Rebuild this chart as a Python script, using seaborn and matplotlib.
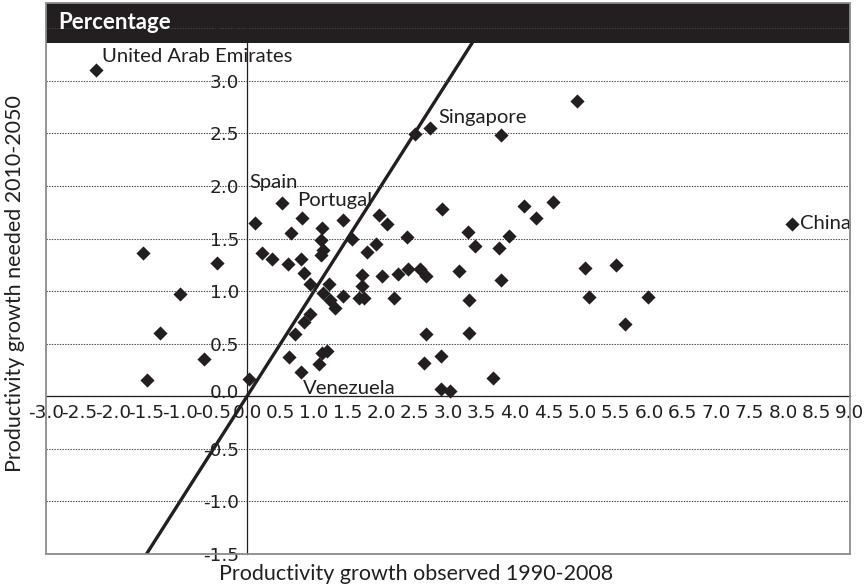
import matplotlib
matplotlib.use("Agg")
import numpy as np
import pandas as pd
import seaborn as sns
import matplotlib.pyplot as plt
from matplotlib.patches import Rectangle
from matplotlib.ticker import MultipleLocator, FormatStrFormatter
from matplotlib.transforms import ScaledTranslation

# Productivity growth per country (% per year)
observed = [
    -2.25, -1.55, -1.49, -1.30, -1.00, -0.64, -0.45,
    0.03, 0.12, 0.52, 0.82, 0.65, 0.23, 0.38, 0.61, 0.80, 0.85, 0.94,
    1.12, 1.11, 1.14, 1.10, 1.22, 1.14, 1.24, 0.94, 0.85, 0.71, 0.62,
    0.80, 1.07, 1.12, 1.19, 1.32, 1.44, 1.67, 1.74, 2.19, 1.43, 1.97,
    2.09, 1.56, 1.92, 1.79, 2.39, 1.72, 1.72, 2.01, 2.25, 2.41, 2.58,
    2.67, 3.16, 3.79, 2.91, 4.13, 4.57, 4.32, 8.13, 3.30, 3.41, 3.76,
    3.91, 5.05, 5.50, 5.11, 5.98, 3.31, 5.64, 2.67, 3.31, 2.64, 2.89,
    3.67, 2.89, 3.03, 2.51, 2.73, 4.93, 3.79,
]
needed = [
    3.10, 1.36, 0.15, 0.60, 0.97, 0.35, 1.27,
    0.16, 1.65, 1.84, 1.70, 1.55, 1.36, 1.31, 1.26, 1.31, 1.17, 1.07,
    1.60, 1.49, 1.39, 1.34, 1.07, 0.98, 0.92, 0.78, 0.71, 0.59, 0.37,
    0.23, 0.31, 0.41, 0.43, 0.84, 0.95, 0.93, 0.93, 0.93, 1.68, 1.72,
    1.64, 1.50, 1.45, 1.37, 1.51, 1.15, 1.05, 1.14, 1.16, 1.21, 1.21,
    1.14, 1.19, 1.11, 1.78, 1.81, 1.85, 1.70, 1.64, 1.56, 1.43, 1.41,
    1.52, 1.22, 1.25, 0.94, 0.94, 0.92, 0.69, 0.59, 0.60, 0.32, 0.38,
    0.17, 0.07, 0.05, 2.49, 2.55, 2.81, 2.48,
]

# Named countries and the index of their point
country_names = ["United Arab Emirates", "Singapore", "China", "Spain", "Portugal", "Venezuela"]
country_index = [0, 77, 58, 9, 10, 29]

# Reference line: needed growth equal to observed growth
reference = [-1.5, 3.5]

x_title = "Productivity growth observed 1990-2008"
y_title = "Productivity growth needed 2010-2050"
header = "Percentage"

INK = "#231f20"
FRAME = "#8a8a8a"

sns.set_theme(style="white")
plt.rcParams["font.family"] = ["Lato", "DejaVu Sans"]
plt.rcParams["axes.unicode_minus"] = False

W, H = 865, 588
fig = plt.figure(figsize=(W / 100, H / 100), dpi=100)
ax = fig.add_axes([46 / W, (H - 554) / H, 804 / W, 551 / H])
ax.set_axisbelow("line")

df = pd.DataFrame({"observed": observed, "needed": needed})
ref = pd.DataFrame({"x": reference, "y": reference})

sns.lineplot(data=ref, x="x", y="y", color=INK, linewidth=2.4, zorder=1.1, ax=ax)
sns.scatterplot(data=df, x="observed", y="needed", marker="D", s=52,
                color=INK, linewidth=0, zorder=3, ax=ax)

ax.set_xlim(-3, 9)
ax.set_ylim(-1.5, 3.74)
ax.set_xlabel("")
ax.set_ylabel("")

# axes through the origin
for side in ["top", "right"]:
    ax.spines[side].set_visible(False)
ax.spines["left"].set_position(("data", 0))
ax.spines["left"].set_bounds(-1.5, 3.5)
ax.spines["bottom"].set_position(("data", 0))
for side in ["left", "bottom"]:
    ax.spines[side].set_color(INK)
    ax.spines[side].set_linewidth(0.9)
    ax.spines[side].set_zorder(2.5)

ax.add_patch(Rectangle((0, 0), 1, 1, transform=ax.transAxes, fill=False,
                       edgecolor=FRAME, linewidth=1.3, clip_on=False, zorder=5))

ax.xaxis.set_major_locator(MultipleLocator(0.5))
ytick_values = np.arange(-1.5, 3.51, 0.5)
ax.set_yticks(ytick_values)
ax.xaxis.set_major_formatter(FormatStrFormatter("%.1f"))
ax.yaxis.set_major_formatter(FormatStrFormatter("%.1f"))
ax.tick_params(axis="both", direction="out", length=4, width=0.8, color=INK,
               labelcolor=INK, labelsize=13.3, pad=1.5,
               labelfontfamily="Liberation Sans Narrow")

# lift the "0.0" label on the vertical axis clear of the horizontal axis labels
for tick, val in zip(ax.yaxis.get_major_ticks(), ytick_values):
    if abs(val) < 1e-9:
        tick.label1.set_transform(tick.label1.get_transform()
                                  + ScaledTranslation(0, 5 / 100, fig.dpi_scale_trans))

ax.grid(axis="y", color="#444444", linestyle=(0, (1.2, 1.2)), linewidth=0.8)
ax.grid(axis="x", visible=False)

# dark title band
ax.add_patch(Rectangle((0, 3.36), 1, 0.5, transform=ax.get_yaxis_transform(),
                       facecolor=INK, edgecolor="none", zorder=1.2))
ax.text(0.015, 0.964, header, transform=ax.transAxes, color="white",
        fontsize=16, fontweight="bold", va="center", ha="left", zorder=6)

# country labels
label_offsets = {
    "United Arab Emirates": (6, 14),
    "Singapore": (8, 11),
    "China": (8, 0),
    "Spain": (-32, 20),
    "Portugal": (-5, 17),
    "Venezuela": (2, -16),
}
for name, idx in zip(country_names, country_index):
    ax.annotate(name, (observed[idx], needed[idx]), xytext=label_offsets[name],
                textcoords="offset pixels", ha="left", va="center",
                fontsize=14.6, color=INK, zorder=4)

fig.text(416 / W, 1 - 574 / H, x_title, ha="center", va="center",
         fontsize=15.5, color=INK)
fig.text(15 / W, 1 - 284 / H, y_title, ha="center", va="center",
         rotation=90, fontsize=15.5, color=INK)

fig.savefig("out.png", dpi=100)
